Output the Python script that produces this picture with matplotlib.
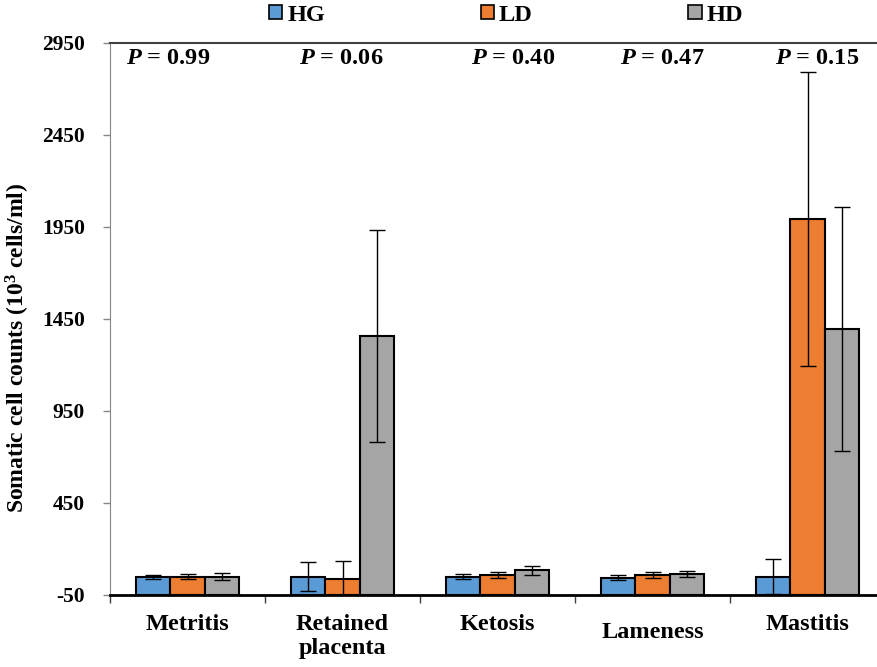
import numpy as np
import matplotlib
matplotlib.use('Agg')
import matplotlib.pyplot as plt

plt.rcParams['font.family'] = ['Liberation Serif', 'DejaVu Serif']
plt.rcParams['font.weight'] = 'bold'
plt.rcParams['axes.labelweight'] = 'bold'
plt.rcParams['axes.unicode_minus'] = False
plt.rcParams['mathtext.fontset'] = 'custom'
plt.rcParams['mathtext.it'] = 'Liberation Serif:italic:bold'
plt.rcParams['mathtext.rm'] = 'Liberation Serif:bold'
plt.rcParams['mathtext.bf'] = 'Liberation Serif:bold'

categories = ['Metritis', 'Retained\nplacenta', 'Ketosis', 'Lameness', 'Mastitis']
groups = ['HG', 'LD', 'HD']
hg = [50, 50, 50, 44, 50]
ld = [50, 39, 57, 60, 1995]
hd = [50, 1357, 84, 66, 1396]
hg_err = [11, 79, 13, 12, 95]
ld_err = [15, 98, 16, 15, 800]
hd_err = [17, 577, 24, 17, 665]
p_values = ['0.99', '0.06', '0.40', '0.47', '0.15']

colors = ['#5B9BD5', '#ED7D31', '#A5A5A5']
base = -50

fig = plt.figure(figsize=(8.78, 6.67), dpi=100)
ax = fig.add_axes([110/878, 72/667, 775/878, 552/667])

x = np.arange(len(categories))
w = 0.223
for i, (vals, errs) in enumerate(zip([hg, ld, hd], [hg_err, ld_err, hd_err])):
	xs = x + (i - 1) * w
	heights = [v - base for v in vals]
	ax.bar(xs, heights, w, bottom=base, color=colors[i], edgecolor='black',
		linewidth=1.5, label=groups[i], zorder=2)
	ax.errorbar(xs, vals, yerr=errs, fmt='none', ecolor='black', elinewidth=1,
		capsize=6, capthick=1, zorder=3)

ax.set_xlim(-0.5, 4.5)
ax.set_ylim(-50, 2950)
ax.set_yticks(np.arange(-50, 2951, 500))
ax.tick_params(axis='y', direction='out', length=5, width=1, color='#868686',
	labelsize=15.5, pad=13)
for lbl in ax.get_yticklabels():
	lbl.set_fontweight('bold')

ax.set_xticks(np.arange(-0.5, 4.6, 1))
ax.set_xticklabels([])
ax.tick_params(axis='x', which='major', direction='out', length=6, width=1, color='#404040')
ax.set_xticks(x, minor=True)
ax.set_xticklabels(categories, minor=True, fontsize=17.5, fontweight='bold', linespacing=1.15)
ax.tick_params(axis='x', which='minor', length=0, pad=14)
for lbl in ax.get_xticklabels(minor=True):
	if lbl.get_text() == 'Lameness':
		lbl.set_y(-0.014)

ax.spines['left'].set_color('#868686')
ax.spines['top'].set_color('#404040')
ax.spines['top'].set_linewidth(1.5)
ax.spines['bottom'].set_color('black')
ax.spines['bottom'].set_linewidth(2)
ax.spines['right'].set_visible(False)

ax.set_ylabel(r'Somatic cell counts (10$^{3}$ cells/ml)', fontsize=17, fontweight='bold')
ax.yaxis.set_label_coords(-0.1, 0.447)

# P value labels (hand placed, as in the original)
p_pos = [-0.126, 0.99, 2.1, 3.06, 4.06]
for xp, p in zip(p_pos, p_values):
	ax.text(xp, 2868, r'$\mathit{P}$ = ' + p, ha='center', va='center', fontsize=17.5)

leg = ax.legend(loc='center', bbox_to_anchor=(0.511, 1.0507), ncol=3,
	frameon=False, prop={'size': 17.5, 'weight': 'bold'}, handlelength=0.55,
	handleheight=0.55, handletextpad=0.2, columnspacing=6.4)
for h in leg.legend_handles:
	h.set_linewidth(1.2)

fig.savefig('out.png', dpi=100)
